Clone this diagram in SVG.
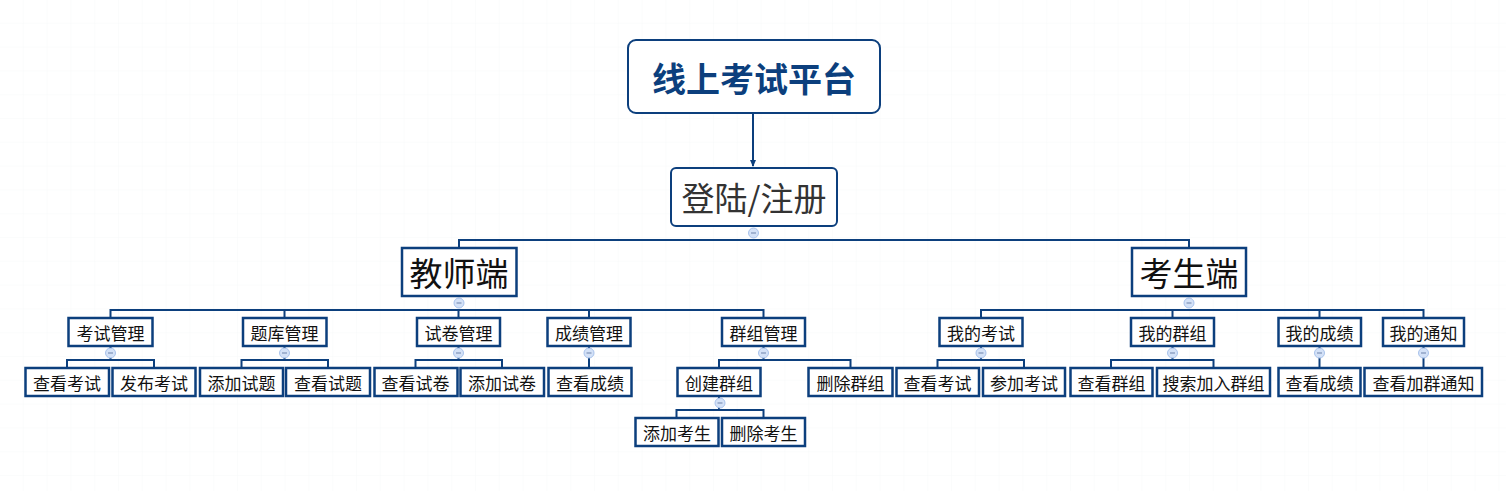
<svg xmlns="http://www.w3.org/2000/svg" width="1506" height="491" viewBox="0 0 1506 491">
<defs>
<pattern id="grid" width="23.8" height="23.8" patternUnits="userSpaceOnUse">
<path d="M23.8 0V23.8M0 23.8H23.8" fill="none" stroke="#f8f9fa" stroke-width="1"/>
</pattern>
<marker id="arr" markerWidth="8" markerHeight="8" refX="6" refY="4" orient="auto" markerUnits="userSpaceOnUse">
<path d="M0 1L7 4L0 7Z" fill="#0c3f7d"/>
</marker>
<g id="tog">
<circle r="5" fill="#d3e1f7" stroke="#a9c3ec" stroke-width="1"/>
<path d="M-2.5 0H2.5" stroke="#7f93b8" stroke-width="1.2"/>
</g>
</defs>
<style>
.box{fill:#fff;stroke:#0c3f7d;stroke-width:2.5}
.line{fill:none;stroke:#0c3f7d;stroke-width:2}
.t{font-family:"Noto Sans CJK SC","Liberation Sans",sans-serif;text-anchor:middle;dominant-baseline:central;fill:#111}
.s{font-size:17px}
.m{font-size:33px}
</style>
<rect width="1506" height="491" fill="#fff"/>
<rect width="1506" height="491" fill="url(#grid)"/>

<g id="connectors">
<path class="line" d="M753 114V166" marker-end="url(#arr)"/>
<path class="line" d="M459 248V240H1189V248"/>
<path class="line" d="M110.5 318V310H763.5V318M284.5 310V318M458.5 310V318M589 310V318"/>
<path class="line" d="M981 318V310H1423.5V318M1172.5 310V318M1319.5 310V318"/>
<path class="line" d="M67 368V360H154V368M110.5 346V360"/>
<path class="line" d="M241.5 368V360H328V368M284.5 346V360"/>
<path class="line" d="M415.5 368V360H502V368M458.5 346V360"/>
<path class="line" d="M589 346V368"/>
<path class="line" d="M719 368V360H850.5V368M763.5 346V360"/>
<path class="line" d="M676.5 418V410H763.5V418M719 396V410"/>
<path class="line" d="M937.5 368V360H1024V368M981 346V360"/>
<path class="line" d="M1111 368V360H1213.5V368M1172.5 346V360"/>
<path class="line" d="M1319.5 346V368"/>
<path class="line" d="M1423.5 346V368"/>
<use href="#tog" x="753.5" y="233"/>
<use href="#tog" x="459" y="303"/>
<use href="#tog" x="1189" y="303"/>
<use href="#tog" x="110.5" y="353"/>
<use href="#tog" x="284.5" y="353"/>
<use href="#tog" x="458.5" y="353"/>
<use href="#tog" x="589" y="353"/>
<use href="#tog" x="763.5" y="353"/>
<use href="#tog" x="720" y="403"/>
<use href="#tog" x="981" y="353"/>
<use href="#tog" x="1172.5" y="353"/>
<use href="#tog" x="1319.5" y="353"/>
<use href="#tog" x="1423.5" y="353"/>
</g>

<g id="root"><rect x="628" y="40" width="252" height="73" rx="8" fill="#fff" stroke="#0c3f7d" stroke-width="2"/><text class="t" x="754" y="77" style="font-size:34px;font-weight:bold;fill:#0c3f7d">线上考试平台</text></g>
<g id="login"><rect x="671" y="168" width="166" height="58" rx="5" fill="#fff" stroke="#0c3f7d" stroke-width="2"/><text class="t m" x="754" y="197" style="fill:#333">登陆/注册</text></g>

<g id="teacher"><rect class="box" x="402" y="248" width="114.5" height="48"/><text class="t m" x="459" y="272">教师端</text></g>
<g id="student"><rect class="box" x="1132" y="248" width="114" height="48"/><text class="t m" x="1189" y="272">考生端</text></g>

<g id="t1"><rect class="box" x="68.5" y="318" width="84" height="28"/><text class="t s" x="110.5" y="332">考试管理</text></g>
<g id="t2"><rect class="box" x="243" y="318" width="83.5" height="28"/><text class="t s" x="284.5" y="332">题库管理</text></g>
<g id="t3"><rect class="box" x="417" y="318" width="83" height="28"/><text class="t s" x="458.5" y="332">试卷管理</text></g>
<g id="t4"><rect class="box" x="547.5" y="318" width="83" height="28"/><text class="t s" x="589" y="332">成绩管理</text></g>
<g id="t5"><rect class="box" x="722" y="318" width="83" height="28"/><text class="t s" x="763.5" y="332">群组管理</text></g>

<g id="t1a"><rect class="box" x="25.5" y="368" width="83.5" height="28"/><text class="t s" x="67" y="382">查看考试</text></g>
<g id="t1b"><rect class="box" x="112.5" y="368" width="83" height="28"/><text class="t s" x="154" y="382">发布考试</text></g>
<g id="t2a"><rect class="box" x="200" y="368" width="83" height="28"/><text class="t s" x="241.5" y="382">添加试题</text></g>
<g id="t2b"><rect class="box" x="286" y="368" width="84" height="28"/><text class="t s" x="328" y="382">查看试题</text></g>
<g id="t3a"><rect class="box" x="374.5" y="368" width="83" height="28"/><text class="t s" x="415.5" y="382">查看试卷</text></g>
<g id="t3b"><rect class="box" x="460.5" y="368" width="83.5" height="28"/><text class="t s" x="502" y="382">添加试卷</text></g>
<g id="t4a"><rect class="box" x="548.5" y="368" width="83" height="28"/><text class="t s" x="590" y="382">查看成绩</text></g>
<g id="t5a"><rect class="box" x="677.5" y="368" width="83" height="28"/><text class="t s" x="719" y="382">创建群组</text></g>
<g id="t5b"><rect class="box" x="808.5" y="368" width="84" height="28"/><text class="t s" x="850.5" y="382">删除群组</text></g>
<g id="t5a1"><rect class="box" x="635.5" y="418" width="83" height="28"/><text class="t s" x="677" y="432">添加考生</text></g>
<g id="t5a2"><rect class="box" x="722" y="418" width="83" height="28"/><text class="t s" x="763.5" y="432">删除考生</text></g>

<g id="s1"><rect class="box" x="939.5" y="318" width="83" height="28"/><text class="t s" x="981" y="332">我的考试</text></g>
<g id="s2"><rect class="box" x="1131" y="318" width="83" height="28"/><text class="t s" x="1172.5" y="332">我的群组</text></g>
<g id="s3"><rect class="box" x="1278.5" y="318" width="82.5" height="28"/><text class="t s" x="1319.5" y="332">我的成绩</text></g>
<g id="s4"><rect class="box" x="1383" y="318" width="81" height="28"/><text class="t s" x="1423.5" y="332">我的通知</text></g>

<g id="s1a"><rect class="box" x="896.5" y="368" width="82.5" height="28"/><text class="t s" x="937.5" y="382">查看考试</text></g>
<g id="s1b"><rect class="box" x="983" y="368" width="82" height="28"/><text class="t s" x="1024" y="382">参加考试</text></g>
<g id="s2a"><rect class="box" x="1070.5" y="368" width="82" height="28"/><text class="t s" x="1111.5" y="382">查看群组</text></g>
<g id="s2b"><rect class="box" x="1157" y="368" width="113" height="28"/><text class="t s" x="1213.5" y="382">搜索加入群组</text></g>
<g id="s3a"><rect class="box" x="1278.5" y="368" width="82" height="28"/><text class="t s" x="1319.5" y="382">查看成绩</text></g>
<g id="s4a"><rect class="box" x="1364.5" y="368" width="117.5" height="28"/><text class="t s" x="1423.5" y="382">查看加群通知</text></g>
</svg>
